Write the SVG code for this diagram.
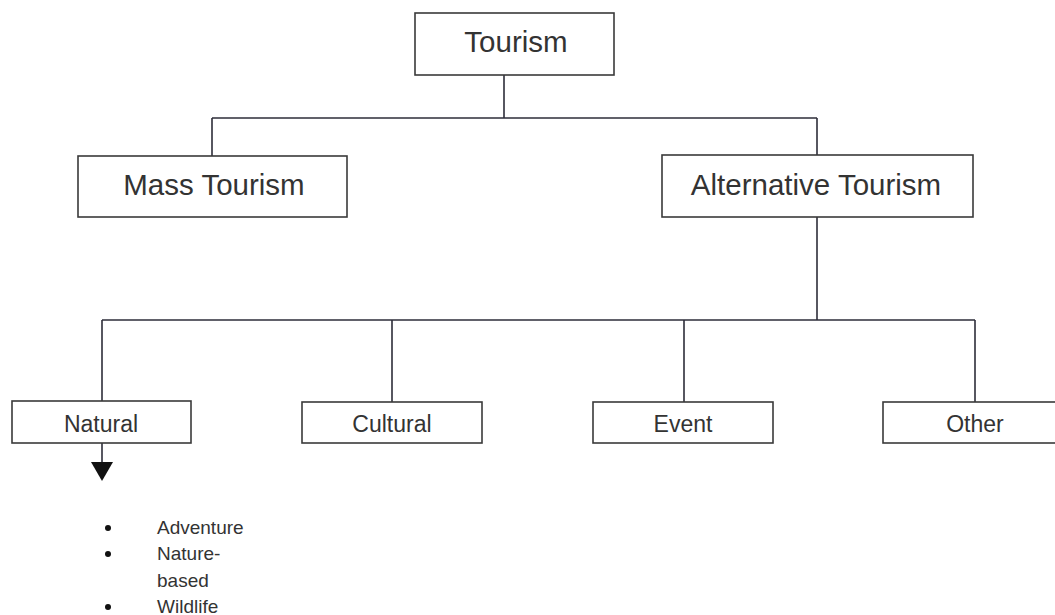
<svg xmlns="http://www.w3.org/2000/svg" width="1055" height="615" viewBox="0 0 1055 615">
<style>
.box{fill:#fff;stroke:#3a3a3a;stroke-width:1.6}
.lbl{font-family:"Liberation Sans",Arial,sans-serif;fill:#333;text-anchor:middle}
.big{font-size:29.5px}
.small{font-size:23px}
.conn{stroke:#2e2e3a;stroke-width:1.6;fill:none}
.bl{font-family:"Liberation Sans",Arial,sans-serif;fill:#333;font-size:19px}
</style>
<rect width="1055" height="615" fill="#fff"/>
<g id="connectors">
<path class="conn" d="M504 75 V118 M212 118 H817 M212 118 V156 M817 118 V155"/>
<path class="conn" d="M817 217 V320 M102 320 H975 M102 320 V401 M392 320 V402 M684 320 V402 M975 320 V402"/>
<path class="conn" d="M102 443 V463"/>
<polygon points="91,462 113,462 102,481" fill="#111"/>
</g>
<g id="tourism"><rect class="box" x="415" y="13" width="199" height="62"/><text class="lbl big" x="516" y="52">Tourism</text></g>
<g id="mass"><rect class="box" x="78" y="156" width="269" height="61"/><text class="lbl big" x="214" y="195">Mass Tourism</text></g>
<g id="alternative"><rect class="box" x="662" y="155" width="311" height="62"/><text class="lbl big" x="816" y="195">Alternative Tourism</text></g>
<g id="natural"><rect class="box" x="12" y="401" width="179" height="42"/><text class="lbl small" x="101" y="432">Natural</text></g>
<g id="cultural"><rect class="box" x="302" y="402" width="180" height="41"/><text class="lbl small" x="392" y="432">Cultural</text></g>
<g id="event"><rect class="box" x="593" y="402" width="180" height="41"/><text class="lbl small" x="683" y="432">Event</text></g>
<g id="other"><rect class="box" x="883" y="402" width="190" height="41"/><text class="lbl small" x="975" y="432">Other</text></g>
<g id="bullets">
<circle cx="108" cy="528" r="3" fill="#111"/>
<circle cx="108" cy="554" r="3" fill="#111"/>
<circle cx="108" cy="607" r="3" fill="#111"/>
<text class="bl" x="157" y="534">Adventure</text>
<text class="bl" x="157" y="560">Nature-</text>
<text class="bl" x="157" y="587">based</text>
<text class="bl" x="157" y="613">Wildlife</text>
</g>
</svg>
